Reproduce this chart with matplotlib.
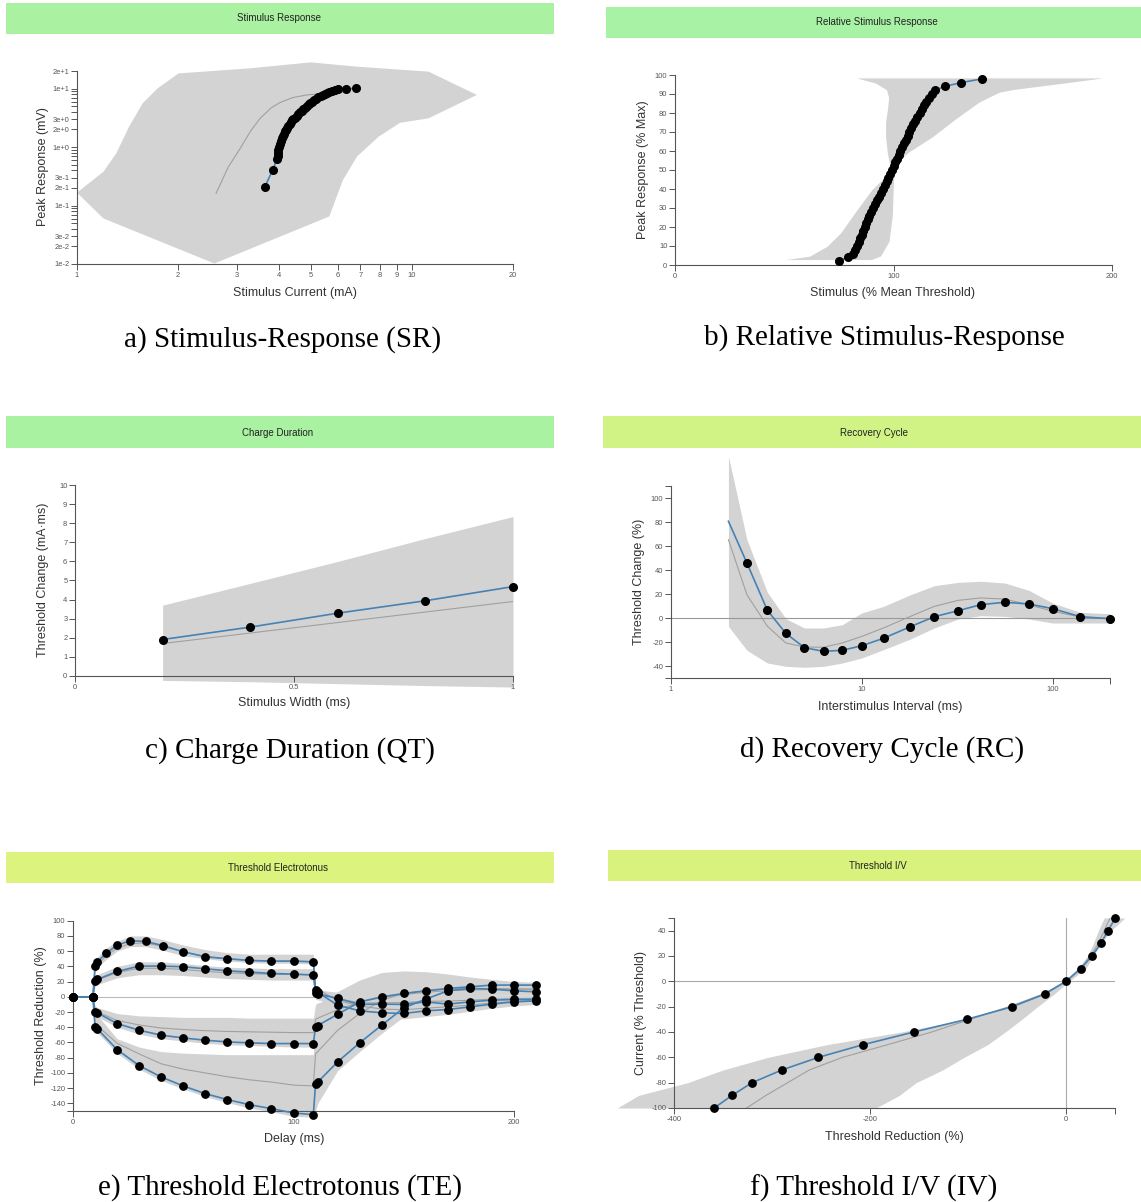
import matplotlib.pyplot as plt
from matplotlib.patches import Rectangle

W, H = 1141, 1202

# a) Stimulus-Response (SR)
sr_current = [3.63, 3.84, 3.95, 3.97, 3.98, 3.99, 4.01, 4.03, 4.05, 4.08, 4.11, 4.14, 4.17, 4.20, 4.23,
              4.27, 4.31, 4.35, 4.39, 4.42, 4.47, 4.52, 4.57, 4.63, 4.69, 4.74, 4.80, 4.86, 4.92, 4.96,
              5.03, 5.10, 5.17, 5.25, 5.33, 5.41, 5.49, 5.57, 5.66, 5.75, 5.89, 6.00, 6.35, 6.82]
sr_peak = [0.205, 0.41, 0.62, 0.70, 0.79, 0.89, 1.00, 1.12, 1.25, 1.41, 1.55, 1.70, 1.85, 1.97, 2.09,
           2.30, 2.50, 2.70, 2.85, 2.98, 3.20, 3.45, 3.70, 3.95, 4.19, 4.45, 4.75, 5.05, 5.35, 5.60,
           6.00, 6.40, 6.75, 7.10, 7.45, 7.80, 8.15, 8.50, 8.85, 9.15, 9.50, 9.75, 9.90, 10.10]
sr_mean_current = [2.6, 2.83, 3.07, 3.3, 3.52, 3.8, 4.04, 4.4, 4.85, 5.3]
sr_mean_peak = [0.162, 0.46, 0.95, 1.9, 3.1, 4.7, 5.8, 7.0, 7.8, 8.1]
sr_band_current = [1.0, 1.20, 1.31, 1.43, 1.57, 1.74, 2.01, 3.28, 4.98, 6.85, 11.2, 15.6,
                   11.2, 9.2, 7.94, 6.85, 6.21, 5.66, 2.57, 1.20]
sr_band_peak = [0.166, 0.38, 0.78, 2.23, 5.6, 10.1, 18.2, 22.2, 28.1, 23.7, 19.5, 7.8,
                3.1, 2.6, 1.5, 0.69, 0.27, 0.065, 0.0102, 0.060]
sr_xticks = [1, 2, 3, 4, 5, 6, 7, 8, 9, 10, 20]
sr_xlabels = ['1', '2', '3', '4', '5', '6', '7', '8', '9', '10', '20']
sr_yticks = [0.01, 0.02, 0.03, 0.04, 0.05, 0.06, 0.07, 0.08, 0.09,
             0.1, 0.2, 0.3, 0.4, 0.5, 0.6, 0.7, 0.8, 0.9,
             1, 2, 3, 4, 5, 6, 7, 8, 9, 10, 20]
sr_ylabels = ['1e-2', '2e-2', '3e-2', '', '', '', '', '', '',
              '1e-1', '2e-1', '3e-1', '', '', '', '', '', '',
              '1e+0', '2e+0', '3e+0', '', '', '', '', '', '', '1e+1', '2e+1']

# b) Relative Stimulus-Response
rsr_peak = [2, 4, 6, 8, 10, 12, 14, 16, 18, 20, 22, 24, 26, 28, 30, 32, 34, 36, 38, 40,
            42, 44, 46, 48, 50, 52, 54, 56, 58, 60, 62, 64, 66, 68, 70, 72, 74, 76, 78, 80,
            82, 84, 86, 88, 90, 92, 94, 96, 98]
rsr_stim = [75, 79, 81.5, 82.5, 83.3, 84, 84.6, 85.4, 86.2, 86.9, 87.6, 88.2, 89, 89.8, 90.6,
            91.5, 92.4, 93.3, 94.2, 95.1, 95.9, 96.8, 97.6, 98.5, 99.2, 100, 100.8, 101.6, 102.4,
            103.2, 104, 104.8, 105.6, 106.5, 107.3, 108.2, 109.1, 110, 110.9, 111.9, 112.9, 114,
            115.1, 116.4, 117.6, 119, 123.5, 131, 140.7]
rsr_band_stim = [50.9, 61.9, 69.8, 76.1, 82.5, 90.4, 95.1, 99.0, 97.5, 96.6, 96.6, 97.5, 98.0, 97.0,
                 92.0, 83.3, 196.0, 178.8, 155.0, 148.6, 139.4, 128.8, 118.0, 107.3, 102.8, 100.6,
                 100.2, 99.7, 98.2, 94.3, 90.0]
rsr_band_peak = [2.6, 4.4, 9.6, 16.7, 27.2, 39.5, 44.7, 50.0, 58.0, 67.0, 75.0, 82.0, 88.0, 92.0,
                 95.5, 98.2, 98.2, 95.6, 92.1, 90.7, 85.5, 76.8, 67.2, 59.3, 55.0, 50.0,
                 43.6, 26.2, 12.3, 4.5, 2.6]

# c) Charge Duration (QT)
qt_width = [0.2, 0.4, 0.6, 0.8, 1.0]
qt_charge = [1.91, 2.56, 3.29, 3.94, 4.68]
qt_mean = [1.7, 2.25, 2.8, 3.35, 3.9]
qt_lo = [-0.23, -0.3, -0.4, -0.5, -0.58]
qt_hi = [3.71, 4.85, 6.0, 7.2, 8.35]

# d) Recovery Cycle (RC)
rc_interval = [2, 2.5, 3.2, 4, 5, 6.3, 7.9, 10, 13, 18, 24, 32, 42, 56, 75, 100, 140, 200]
rc_change = [80.6, 45.8, 6.4, -12.8, -24.7, -27.8, -26.9, -23.1, -16.9, -7.2, 1.1, 6.1, 11.1,
             13.1, 11.7, 7.8, 1.1, -0.6]
rc_mean = [65.3, 19.4, -6.9, -20.8, -24.2, -24.4, -20.8, -15.3, -8.3, 1.4, 9.7, 14.7, 16.7,
           15.8, 11.1, 5.6, 0.8, -0.6]
rc_lo = [-6.9, -26.9, -37.5, -40.3, -41.1, -40.3, -37.5, -33.3, -26.4, -17.5, -8.3, -0.8, 1.9,
         1.4, -0.8, -4.2, -4.2, -4.2]
rc_hi = [134.7, 65.3, 21.4, -0.6, -8.3, -8.3, -5.6, 4.2, 9.7, 19.4, 26.9, 29.7, 30.6, 29.2,
         23.1, 12.5, 4.7, 3.6]

# e) Threshold Electrotonus (TE)
te_d40_delay = [0, 9, 10, 11, 15, 20, 26, 33, 41, 50, 60, 70, 80, 90, 100, 109, 110, 111,
                120, 130, 140, 150, 160, 170, 180, 190, 200, 210]
te_d40 = [0, 0, 40.4, 46, 57, 68, 73.7, 72.8, 67.1, 59.2, 52.6, 50, 47.8, 46.9, 46.9, 46, 8.8, 6,
          -11, -18.4, -21, -21.9, -18.4, -16.7, -13.2, -9.6, -6.6, -5.3]
te_d40_mean = [0, 0, 37, 42, 54, 64, 70, 71, 66, 59, 53, 50, 48, 47, 47, 46, 12, 10,
               -5, -12, -16, -17, -15, -13, -11, -8, -6, -5]
te_d40_lo = [0, 0, 32, 38, 49, 60, 66, 66, 61, 54, 50, 47, 45, 44, 44, 43, 0, -2,
             -18, -25, -28, -29, -26, -23, -19, -15, -12, -10]
te_d40_hi = [0, 0, 46, 52, 64, 73, 80, 80, 75, 68, 62, 58, 56, 56, 56, 56, 12, 10,
             2, -4, -8, -9, -7, -5, -3, -1, 0, 0]

te_delay = [0, 9, 10, 11, 20, 30, 40, 50, 60, 70, 80, 90, 100, 109, 110, 111,
            120, 130, 140, 150, 160, 170, 180, 190, 200, 210]
te_d20 = [0, 0, 20.6, 22.8, 33.3, 40.4, 40.4, 39.5, 36.8, 34.2, 32.5, 30.7, 29.8, 28.5, 5.3, 4,
          -2.2, -10, -9.6, -10, -6.6, -9.6, -6.6, -4.4, -3.5, -3.5]
te_d20_mean = [0, 0, 20, 22, 32, 37.5, 37.5, 36, 33.5, 31.5, 30.5, 29.5, 29.5, 29.5, 5, 4,
               -2, -8, -8, -7.5, -6, -5.5, -4.5, -3, -2.5, -2]
te_d20_lo = [0, 0, 14, 16, 25, 29, 29, 28, 26, 24, 23, 22, 22, 22, -3, -4,
             -10, -16, -16, -15, -13, -13, -10, -8, -7, -6]
te_d20_hi = [0, 0, 26, 29, 40, 46, 46, 44, 41, 39, 38, 37, 37, 37, 10, 9,
             6, 0, 0, 0, 2, 1, 1, 2, 2, 2]
te_h20 = [0, 0, -19.7, -21, -35.1, -43.9, -50.4, -54, -57, -59.2, -60.5, -61.4, -61.4, -61.4,
          -39.5, -37.7, -23, -6.6, 0, 4.4, 7.9, 11, 13.2, 15.4, 15.4, 15.4]
te_h20_mean = [0, 0, -18, -20, -31, -37, -41, -43, -44.5, -45.5, -46, -46.5, -47, -47, -30, -28,
               -17, -7, -1, 3, 6, 8, 9, 9.5, 10, 10]
te_h20_lo = [0, 0, -24, -26, -40, -49, -55, -58, -61, -63, -64, -65, -66, -66, -50, -48,
             -35, -20, -10, -4, 0, 3, 6, 8, 9, 10]
te_h20_hi = [0, 0, -12, -14, -22, -25, -26, -27, -27, -27, -28, -28, -28, -28, -10, -8,
             0, 15, 24, 28, 26, 24, 22, 21, 20, 19]
te_h40 = [0, 0, -39.5, -42, -69.3, -90.4, -105.3, -117.1, -127.2, -135, -141.7, -146.9, -152.6,
          -154.8, -114, -112, -85.5, -60.5, -37.3, -14.5, -3, 7.9, 11, 10, 7.9, 6.6]
te_h40_mean = [0, 0, -36, -38, -61, -75, -88, -95, -100, -105, -109, -112, -116, -117, -75, -72,
               -44, -22, -4.4, 4.4, 8, 10, 11, 11, 10.5, 10]
te_h40_lo = [0, 0, -44, -47, -74, -95, -110, -121, -131, -139, -146, -151, -157, -158, -150, -140,
             -97, -72, -48, -26, -14, -5, 0, 2, 2, 2]
te_h40_hi = [0, 0, -22, -24, -55, -66, -72, -74, -75, -76, -76, -76, -76, -76, -15, -10,
             7, 22, 32, 34, 33, 30, 26, 23, 20, 18]

# f) Threshold I/V (IV)
iv_current = [-100, -90, -80, -70, -60, -50, -40, -30, -20, -10, 0, 10, 20, 30, 40, 50]
iv_thresh = [-359, -340.7, -320.3, -290, -252.6, -207, -155.2, -101.2, -54.7, -21.5, 0,
             15.2, 26.5, 35.6, 42.7, 50.4]
iv_mean = [-326, -306, -284, -262, -228, -182, -137, -98, -58, -23, 0, 14, 25, 33, 39, 45]
iv_lo = [-458, -436, -386, -350, -304, -244, -168, -102, -58, -26, -2, 12, 22, 28, 33, 39]
iv_hi = [-194, -170, -153, -126, -104, -80, -62, -45, -29, -12, 3, 20, 28, 36, 46, 60]

BAND = '#d3d3d3'
LINE = '#4682b4'
MEAN = '#a0a0a0'
AXC = '#555555'

plt.rcParams['font.family'] = ['Liberation Sans', 'DejaVu Sans']

fig = plt.figure(figsize=(W / 100, H / 100), dpi=100)


def add_axes(x0, x1, ytop, ybot):
    ax = fig.add_axes([x0 / W, 1 - ybot / H, (x1 - x0) / W, (ybot - ytop) / H])
    ax.patch.set_visible(False)
    for s in ('top', 'right'):
        ax.spines[s].set_visible(False)
    for s in ('left', 'bottom'):
        ax.spines[s].set_color(AXC)
        ax.spines[s].set_linewidth(0.8)
    return ax


def set_ticks(ax, xt, xl, yt, yl, xlim, ylim):
    ax.set_xticks(xt)
    ax.set_xticklabels(xl)
    ax.set_yticks(yt)
    ax.set_yticklabels(yl)
    ax.minorticks_off()
    ax.set_xlim(*xlim)
    ax.set_ylim(*ylim)
    ax.tick_params(length=4, width=0.7, color=AXC, labelsize=5.4, labelcolor=AXC, pad=1.5)


def banner(x0, x1, y0, y1, color, title, tx, ty):
    fig.add_artist(Rectangle((x0 / W, 1 - y1 / H), (x1 - x0) / W, (y1 - y0) / H,
                             transform=fig.transFigure, color=color, lw=0, zorder=0))
    fig.text(tx / W, 1 - ty / H, title, ha='center', va='center', fontsize=7, color='#222222')


def labels(xl, xx, xy, yl, yx, yy):
    fig.text(xx / W, 1 - xy / H, xl, ha='center', va='center', fontsize=9, color='#333333')
    fig.text(yx / W, 1 - yy / H, yl, ha='center', va='center', fontsize=9, color='#333333',
             rotation=90)


def caption(text, cx, cy):
    fig.text(cx / W, 1 - cy / H, text, ha='center', va='center', fontsize=21,
             family='Liberation Serif', color='black')


def data(ax, x, y, ms=5.5, skip_first=False):
    ax.plot(x, y, color=LINE, lw=1.2, zorder=3, clip_on=False)
    mx, my = (x[1:], y[1:]) if skip_first else (x, y)
    ax.plot(mx, my, 'o', color='black', ms=ms, zorder=4, clip_on=False)


# ---------------- a) SR
banner(6, 554, 3, 34, '#abf1a2', 'Stimulus Response', 279, 18)
ax = add_axes(77, 513, 71, 264)
ax.set_xscale('log')
ax.set_yscale('log')
ax.fill(sr_band_current, sr_band_peak, color=BAND, lw=0, zorder=1, clip_on=False)
ax.plot(sr_mean_current, sr_mean_peak, color=MEAN, lw=0.8, zorder=2, clip_on=False)
data(ax, sr_current, sr_peak)
set_ticks(ax, sr_xticks, sr_xlabels, sr_yticks, sr_ylabels, (1, 20), (0.01, 20))
labels('Stimulus Current (mA)', 295, 293, 'Peak Response (mV)', 43, 167)
caption('a) Stimulus-Response (SR)', 283, 340)

# ---------------- b) relative SR
banner(606, 1141, 7, 38, '#a8f2a6', 'Relative Stimulus Response', 877, 22)
ax = add_axes(675, 1112, 75, 265)
ax.fill(rsr_band_stim, rsr_band_peak, color=BAND, lw=0, zorder=1, clip_on=False)
data(ax, rsr_stim, rsr_peak)
set_ticks(ax, [0, 100, 200], ['0', '100', '200'],
          list(range(0, 101, 10)), [str(v) for v in range(0, 101, 10)], (0, 200), (0, 100))
labels('Stimulus (% Mean Threshold)', 893, 293, 'Peak Response (% Max)', 643, 170)
caption('b) Relative Stimulus-Response', 884, 338)

# ---------------- c) QT
banner(6, 554, 416, 448, '#a8f2a2', 'Charge Duration', 278, 433)
ax = add_axes(75, 513, 485, 676)
ax.fill_between(qt_width, qt_lo, qt_hi, color=BAND, lw=0, zorder=1, clip_on=False)
ax.plot(qt_width, qt_mean, color=MEAN, lw=0.8, zorder=2)
data(ax, qt_width, qt_charge)
set_ticks(ax, [0, 0.5, 1], ['0', '0.5', '1'],
          list(range(0, 11)), [str(v) for v in range(0, 11)], (0, 1), (0, 10))
labels('Stimulus Width (ms)', 294, 703, 'Threshold Change (mA\u00b7ms)', 43, 580)
caption('c) Charge Duration (QT)', 290, 751)

# ---------------- d) RC
banner(603, 1141, 416, 448, '#d1f386', 'Recovery Cycle', 874, 433)
ax = add_axes(671, 1110, 486, 678)
ax.set_xscale('log')
ax.fill_between(rc_interval, rc_lo, rc_hi, color=BAND, lw=0, zorder=1, clip_on=False)
ax.plot([1, 200], [0, 0], color='#999999', lw=0.8, zorder=1.5)
ax.plot(rc_interval, rc_mean, color=MEAN, lw=0.8, zorder=2)
data(ax, rc_interval, rc_change, skip_first=True)
set_ticks(ax, [1, 10, 100, 200], ['1', '10', '100', ''],
          [-50, -40, -20, 0, 20, 40, 60, 80, 100, 110],
          ['', '-40', '-20', '0', '20', '40', '60', '80', '100', ''], (1, 200), (-50, 110))
labels('Interstimulus Interval (ms)', 890, 707, 'Threshold Change (%)', 639, 582)
caption('d) Recovery Cycle (RC)', 882, 750)

# ---------------- e) TE
banner(6, 554, 852, 883, '#dcf37e', 'Threshold Electrotonus', 278, 868)
ax = add_axes(73, 514, 920.7, 1111)
ax.plot([0, 110], [0, 0], color='#bbbbbb', lw=0.8, zorder=0.5)
for xs, lo, hi in [(te_d40_delay, te_d40_lo, te_d40_hi), (te_delay, te_d20_lo, te_d20_hi),
                   (te_delay, te_h20_lo, te_h20_hi), (te_delay, te_h40_lo, te_h40_hi)]:
    ax.fill_between(xs, lo, hi, color=BAND, lw=0, zorder=1, clip_on=False)
for xs, m in [(te_d40_delay, te_d40_mean), (te_delay, te_d20_mean),
              (te_delay, te_h20_mean), (te_delay, te_h40_mean)]:
    ax.plot(xs, m, color=MEAN, lw=0.8, zorder=2, clip_on=False)
for xs, ys in [(te_d40_delay, te_d40), (te_delay, te_d20), (te_delay, te_h20), (te_delay, te_h40)]:
    data(ax, xs, ys, ms=5.3)
set_ticks(ax, [0, 100, 200], ['0', '100', '200'],
          [-150] + list(range(-140, 101, 20)), [''] + [str(v) for v in range(-140, 101, 20)],
          (0, 200), (-150, 100))
labels('Delay (ms)', 294, 1139, 'Threshold Reduction (%)', 41, 1016)
caption('e) Threshold Electrotonus (TE)', 280, 1188)

# ---------------- f) IV
banner(608, 1141, 850, 881, '#d9f27e', 'Threshold I/V', 878, 866)
ax = add_axes(674, 1115, 918, 1108)
ax.fill_betweenx(iv_current, iv_lo, iv_hi, color=BAND, lw=0, zorder=1, clip_on=False)
ax.plot([-400, 50], [0, 0], color='#aaaaaa', lw=0.8, zorder=1.5)
ax.plot([0, 0], [-100, 50], color='#aaaaaa', lw=0.8, zorder=1.5)
ax.plot(iv_mean, iv_current, color=MEAN, lw=0.8, zorder=2)
data(ax, iv_thresh, iv_current, ms=5.3)
set_ticks(ax, [-400, -200, 0, 50], ['-400', '-200', '0', ''],
          [-100, -80, -60, -40, -20, 0, 20, 40, 50],
          ['-100', '-80', '-60', '-40', '-20', '0', '20', '40', ''], (-400, 50), (-100, 50))
labels('Threshold Reduction (%)', 894, 1137, 'Current (% Threshold)', 641, 1013)
caption('f) Threshold I/V (IV)', 874, 1188)

fig.savefig('out.png', dpi=100)
